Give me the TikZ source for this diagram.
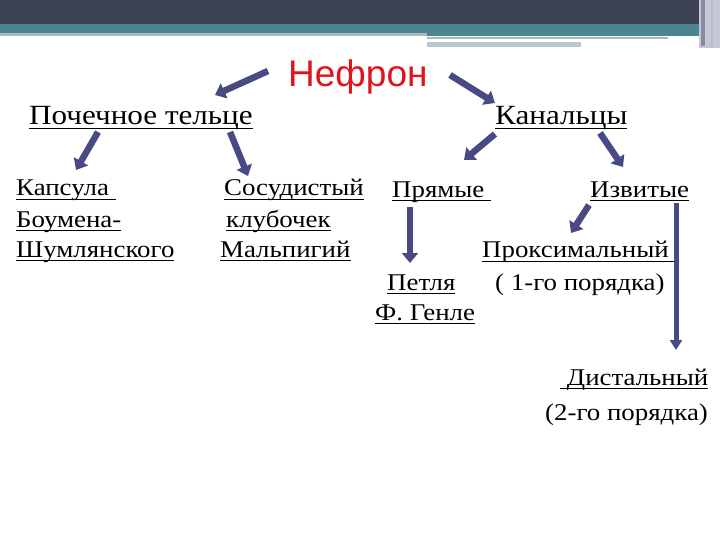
\documentclass[tikz,border=0pt]{standalone}
\usepackage{fontspec}
\setmainfont[FakeStretch=1.12]{Liberation Serif}
\newfontfamily\titlefont{Liberation Sans}
\usetikzlibrary{arrows.meta}
\definecolor{bandDark}{HTML}{3E4354}
\definecolor{bandTeal}{HTML}{4A8590}
\definecolor{bandGray}{HTML}{A7BABE}
\definecolor{bandLight}{HTML}{C4C8D2}
\definecolor{bandMid}{HTML}{8A8AA2}
\definecolor{arrowFill}{HTML}{484A84}
\definecolor{titleRed}{HTML}{E0141E}
\newcommand\ulx[1]{\setbox0\hbox{#1}\rlap{\vrule width\wd0 height -2.8pt depth 4.3pt}\box0}
\tikzset{
  lbl/.style={anchor=base west, inner sep=0pt, font=\fontsize{24}{28}\selectfont, text=black},
  hdr/.style={lbl, font=\fontsize{27.8}{32}\selectfont},
  blockarrow/.style={draw=arrowFill, line width=6.5pt, -{Triangle[length=10pt,width=16pt]}},
  thinarrow/.style={draw=arrowFill, line width=5pt, -{Triangle[length=10pt,width=12pt]}}
}
\begin{document}
\begin{tikzpicture}[x=1pt,y=-1pt]
\useasboundingbox (0,0) rectangle (720,540);
% banner
\fill[bandDark] (0,0) rectangle (720,24);
\fill[bandTeal] (0,24) rectangle (720,33);
\fill[bandGray] (0,33) rectangle (427,36);
\fill[bandTeal] (427,33) rectangle (700,36);
\fill[bandGray] (427,37) rectangle (668,39);
\fill[bandGray!80] (427,42) rectangle (581,47);
\fill[bandLight] (699,0) rectangle (720,48);
\fill[bandMid] (701,0) rectangle (705,46);
\fill[bandMid!60] (711,0) rectangle (713,48);
% texts
\node[anchor=base west, inner sep=0pt, font=\titlefont\fontsize{37}{40}\selectfont, text=titleRed] (nephron) at (288,87) {Нефрон};
\node[hdr] (pt) at (29,125) {\ulx{Почечное тельце}};
\node[hdr] (kan) at (495,125) {\ulx{Канальцы}};
\node[lbl] (kaps1) at (16,196) {\ulx{Капсула }};
\node[lbl] (kaps2) at (16,227) {\ulx{Боумена-}};
\node[lbl] (kaps3) at (16,257) {\ulx{Шумлянского}};
\node[lbl] (sos1) at (224,196) {\ulx{Сосудистый}};
\node[lbl] (sos2) at (226,227) {\ulx{клубочек}};
\node[lbl] (sos3) at (220,257) {\ulx{Мальпигий}};
\node[lbl] (pryam) at (392,197) {\ulx{Прямые }};
\node[lbl] (izv) at (590,197) {\ulx{Извитые}};
\node[lbl] (prox) at (482,258) {\ulx{Проксимальный }};
\node[lbl] (por1) at (495,290) {( 1-го порядка)};
\node[lbl] (petlya) at (387,290) {\ulx{Петля}};
\node[lbl] (genle) at (375,320) {\ulx{Ф. Генле}};
\node[lbl] (dist) at (560,385) {\ulx{ Дистальный}};
\node[lbl] (por2) at (545,420) {(2-го порядка)};
% arrow end points
\coordinate (a1s) at (268,71); \coordinate (a1e) at (215,95);
\coordinate (a2s) at (450,75); \coordinate (a2e) at (495,103);
\coordinate (a3s) at (98,132); \coordinate (a3e) at (76,170);
\coordinate (a4s) at (230,132); \coordinate (a4e) at (248,176);
\coordinate (a5s) at (495,134); \coordinate (a5e) at (464,160);
\coordinate (a6s) at (600,133); \coordinate (a6e) at (623,167);
\coordinate (a7s) at (410,207); \coordinate (a7e) at (410,263);
\coordinate (a8s) at (589,205); \coordinate (a8e) at (571,233);
\coordinate (a9s) at (676,203); \coordinate (a9e) at (676,350);
\draw[blockarrow] (a1s) -- (a1e);
\draw[blockarrow] (a2s) -- (a2e);
\draw[blockarrow] (a3s) -- (a3e);
\draw[blockarrow] (a4s) -- (a4e);
\draw[blockarrow] (a5s) -- (a5e);
\draw[blockarrow] (a6s) -- (a6e);
\draw[blockarrow] (a7s) -- (a7e);
\draw[blockarrow] (a8s) -- (a8e);
\draw[thinarrow] (a9s) -- (a9e);
\end{tikzpicture}
\end{document}
